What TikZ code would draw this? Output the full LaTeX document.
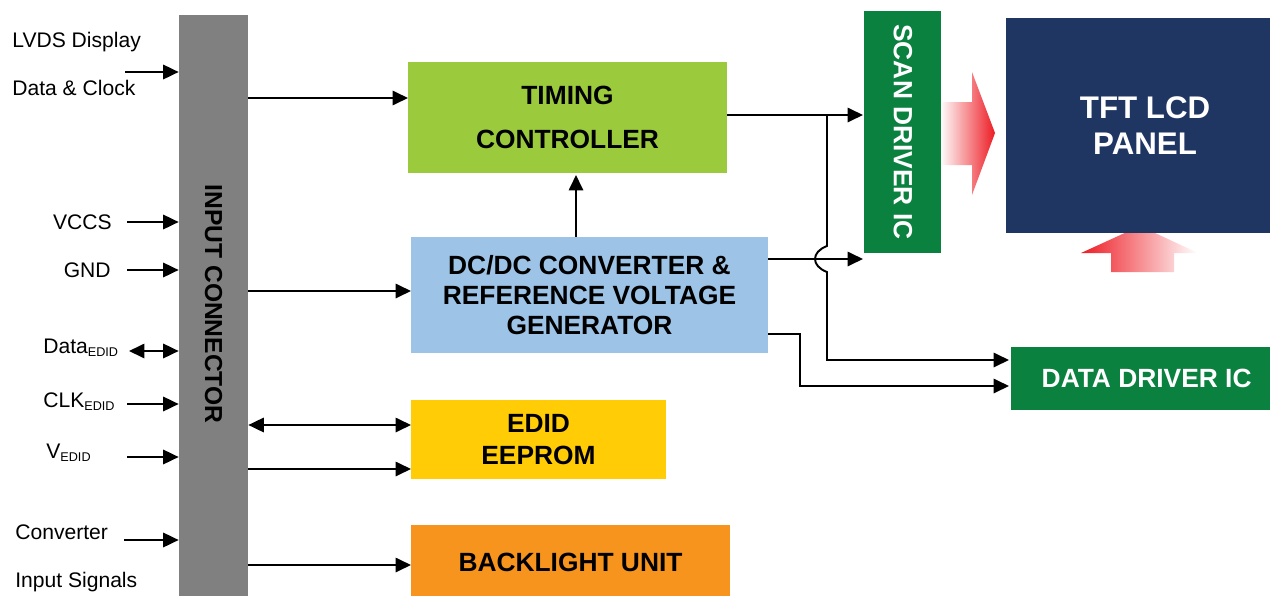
\documentclass[tikz,border=0pt]{standalone}
\usepackage{fontspec}
\setmainfont{Liberation Sans}
\usetikzlibrary{arrows.meta,calc}
\definecolor{bargray}{HTML}{808080}
\definecolor{tcgreen}{HTML}{9BCB3C}
\definecolor{dcblue}{HTML}{9DC3E6}
\definecolor{eeyellow}{HTML}{FFCC06}
\definecolor{blorange}{HTML}{F7941E}
\definecolor{icgreen}{HTML}{0B8140}
\definecolor{panelnavy}{HTML}{1F3562}
\definecolor{arrowred}{HTML}{ED1C24}
\begin{document}
\begin{tikzpicture}[x=0.02cm,y=-0.02cm,
  box/.style={draw=none,inner sep=0pt,align=center,font=\bfseries\fontsize{15}{18}\selectfont},
  arr/.style={line width=1.1pt,-{Triangle[length=8.8pt,width=8.2pt]}},
  darr/.style={line width=1.1pt,{Triangle[length=8.8pt,width=8.2pt]}-{Triangle[length=8.8pt,width=8.2pt]}},
  lbl/.style={font=\fontsize{12}{14}\selectfont,inner sep=0pt}]
\useasboundingbox (0,0) rectangle (1271,595);

% red gradient arrows (behind the panel)
\shade[left color=white,right color=arrowred]
  (940,102) -- (972,102) -- (972,72) -- (995,133) -- (972,195) -- (972,165) -- (940,165) -- cycle;
\shade[left color=arrowred,right color=white]
  (1081,253) -- (1140,226) -- (1198,253) -- (1174,253) -- (1174,272) -- (1111,272) -- (1111,253) -- cycle;

% boxes
\node[box,fill=bargray,minimum width=1.38cm,minimum height=11.8cm] (bar) at (213.5,310) {};
\node[box,rotate=-90,font=\bfseries\fontsize{14}{16}\selectfont] (barT) at (213.5,304) {INPUT CONNECTOR};
\node[box,fill=tcgreen,minimum width=6.38cm,minimum height=2.22cm,font=\bfseries\fontsize{15}{26.6}\selectfont] (tc) at (567.5,117.5) {\raisebox{-3pt}{TIMING}\\\raisebox{-1.5pt}{CONTROLLER}};
\node[box,fill=dcblue,minimum width=7.14cm,minimum height=2.32cm,font=\bfseries\fontsize{15}{17}\selectfont] (dc) at (589.5,295) {DC/DC CONVERTER \&\\REFERENCE VOLTAGE\\GENERATOR};
\node[box,fill=eeyellow,minimum width=5.10cm,minimum height=1.58cm,font=\bfseries\fontsize{15}{18.1}\selectfont] (ee) at (538.5,439.5) {EDID\\EEPROM};
\node[box,fill=blorange,minimum width=6.38cm,minimum height=1.5cm] (bl) at (570.5,562) {BACKLIGHT UNIT};
\node[box,fill=icgreen,minimum width=1.54cm,minimum height=4.84cm] (scan) at (902.5,132) {};
\node[box,rotate=-90,text=white] (scanT) at (903,132) {SCAN DRIVER IC};
\node[box,fill=panelnavy,minimum width=5.28cm,minimum height=4.30cm,text=white,font=\bfseries\fontsize{17.8}{20.4}\selectfont] (tft) at (1138,125.5) {\hspace*{8pt}TFT LCD\\\hspace*{8pt}PANEL};
\node[box,fill=icgreen,minimum width=5.18cm,minimum height=1.26cm,text=white] (dd) at (1140.5,378.5) {\hspace*{7pt}DATA DRIVER IC};

% left labels
\node[lbl,anchor=base west] (l1) at (12,47) {LVDS Display};
\node[lbl,anchor=base west] (l2) at (12,95) {Data \& Clock};
\node[lbl,anchor=base east] (l3) at (112,229) {VCCS};
\node[lbl,anchor=base east] (l4) at (111,277) {GND};
\node[lbl,anchor=base west] (l5) at (43,353) {Data\raisebox{-0.3ex}{\fontsize{7.2}{8}\selectfont EDID}};
\node[lbl,anchor=base west] (l6) at (43,407) {CLK\raisebox{-0.3ex}{\fontsize{7.2}{8}\selectfont EDID}};
\node[lbl,anchor=base west] (l7) at (46,458) {V\raisebox{-0.3ex}{\fontsize{7.2}{8}\selectfont EDID}};
\node[lbl,anchor=base west] (l8) at (15,539) {Converter};
\node[lbl,anchor=base west] (l9) at (15,587) {Input Signals};

% input arrows into the connector
\coordinate (i1) at (125,72);
\coordinate (i2) at (127,222);
\coordinate (i3) at (127,270);
\coordinate (i4) at (129,351);
\coordinate (i5) at (127,404);
\coordinate (i6) at (127,457);
\coordinate (i7) at (124,540);
\draw[arr] (i1) -- (i1 -| bar.west);
\draw[arr] (i2) -- (i2 -| bar.west);
\draw[arr] (i3) -- (i3 -| bar.west);
\draw[darr] (i4) -- (i4 -| bar.west);
\draw[arr] (i5) -- (i5 -| bar.west);
\draw[arr] (i6) -- (i6 -| bar.west);
\draw[arr] (i7) -- (i7 -| bar.west);

% connector to blocks
\coordinate (a1) at (408,98);
\coordinate (a2) at (411,291);
\coordinate (a3) at (411,425);
\coordinate (a4) at (411,469);
\coordinate (a5) at (411,565);
\draw[arr] (a1 -| bar.east) -- (a1);
\draw[arr] (a2 -| bar.east) -- (a2);
\draw[darr] (a3 -| bar.east) -- (a3);
\draw[arr] (a4 -| bar.east) -- (a4);
\draw[arr] (a5 -| bar.east) -- (a5);

% DC/DC up to timing controller
\coordinate (u) at (576,175);
\draw[arr] (u |- dc.north) -- (u);

% timing controller to scan driver and data driver
\coordinate (s1) at (863,115);
\coordinate (j) at (827,115);
\coordinate (jt) at (827,246);
\coordinate (jb) at (827,272);
\coordinate (d1) at (1009,360);
\draw[arr] (s1 -| tc.east) -- (s1);
\draw[arr] (j) -- (jt) .. controls (811,252) and (811,266) .. (jb) -- (jb |- d1) -- (d1);

% DC/DC to scan driver and data driver
\coordinate (s2) at (863,259);
\draw[arr] (s2 -| dc.east) -- (s2);
\coordinate (b1) at (800,334);
\coordinate (d2) at (1009,386);
\draw[arr] (b1 -| dc.east) -- (b1) -- (b1 |- d2) -- (d2);
\end{tikzpicture}
\end{document}
